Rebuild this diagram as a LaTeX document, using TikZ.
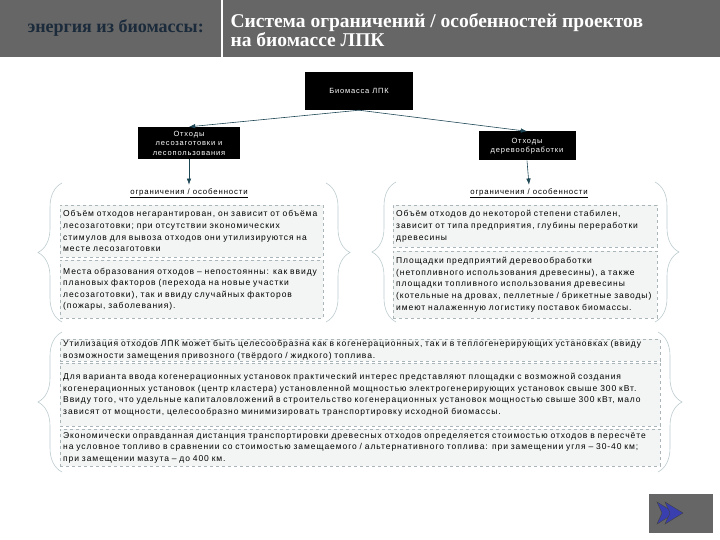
\documentclass[tikz,border=0pt]{standalone}
\usepackage{fontspec}
\setmainfont{Liberation Sans}
\newfontfamily\notefont[LetterSpace=11]{Liberation Sans}
\newfontfamily\headfont{Liberation Serif}
\usetikzlibrary{arrows.meta, positioning, decorations.pathreplacing}

\definecolor{headgray}{HTML}{666666}
\definecolor{headnavy}{HTML}{1B2B3B}
\definecolor{arrowteal}{HTML}{1E4756}
\definecolor{bracegray}{HTML}{BCCACE}
\definecolor{notegray}{HTML}{F3F4F4}
\definecolor{dashgray}{HTML}{A9B5B9}
\definecolor{chevblue}{HTML}{3A3FB0}

\begin{document}
\begin{tikzpicture}[
        x=1pt, y=-1pt,
        blackbox/.style={rectangle, fill=black, text=white, align=center, inner sep=1pt, font=\notefont\fontsize{7.5}{9.5}\selectfont},
        notebox/.style={rectangle, draw=dashgray, dashed, fill=notegray, anchor=north west, align=left, inner xsep=3pt, inner ysep=2pt, font=\notefont\fontsize{8.5}{11.6}\selectfont},
        limit/.style={font=\notefont\fontsize{7.8}{10}\selectfont},
        arrowline/.style={-{Latex[length=2.2mm, width=1.6mm]}, semithick, arrowteal},
        curly/.style={decorate, decoration={brace, amplitude=24pt}, bracegray, semithick}
    ]
        \useasboundingbox (0,0) rectangle (720,540);
        % header
        \fill[headgray] (0,0) rectangle (720,57);
        \draw[white, line width=2pt] (222,0) -- (222,57);
        \node[anchor=west, text=headnavy, font=\headfont\bfseries\fontsize{18}{20}\selectfont] (topic) at (24,28) {энергия из биомассы:};
        \node[anchor=west, text=white, align=left, font=\headfont\bfseries\fontsize{19.5}{18.5}\selectfont] (title) at (227,30) {Система ограничений / особенностей проектов\\на биомассе ЛПК};

        % tree
        \node[blackbox, minimum width=108pt, minimum height=38pt] (biomass) at (359,91) {Биомасса ЛПК};
        \node[blackbox, minimum width=102pt, minimum height=32pt] (logging) at (189,143) {Отходы\\лесозаготовки и\\лесопользования};
        \node[blackbox, minimum width=97pt, minimum height=29pt] (woodproc) at (527,146) {Отходы\\деревообработки};
        \draw[arrowline] (biomass.south) -- (logging.north);
        \draw[arrowline] (biomass.south) -- (woodproc.north);

        \node[limit] (limitL) at (189,193) {\underline{ограничения / особенности}};
        \node[limit] (limitR) at (529,193) {\underline{ограничения / особенности}};
        \draw[arrowline] (logging.south) -- (limitL.north);
        \draw[arrowline] (woodproc.south) -- (limitR.north);

        % left group
        \node[notebox, text width=257pt, minimum height=52pt] (noteL1) at (60,205) {Объём отходов негарантирован, он зависит от объёма\\лесозаготовки; при отсутствии экономических\\стимулов для вывоза отходов они утилизируются на\\месте лесозаготовки};
        \node[notebox, text width=257pt, minimum height=58pt] (noteL2) at (60,260) {Места образования отходов – непостоянны: как ввиду\\плановых факторов (перехода на новые участки\\лесозаготовки), так и ввиду случайных факторов\\(пожары, заболевания).};
        \draw[curly] (62,322) -- (62,183);
        \draw[curly] (326,183) -- (326,322);

        % right group
        \node[notebox, text width=258pt, minimum height=42pt] (noteR1) at (393,205) {Объём отходов до некоторой степени стабилен,\\зависит от типа предприятия, глубины переработки\\древесины};
        \node[notebox, text width=258pt, minimum height=67pt] (noteR2) at (393,251) {Площадки предприятий деревообработки\\(нетопливного использования древесины), а также\\площадки топливного использования древесины\\(котельные на дровах, пеллетные / брикетные заводы)\\имеют налаженную логистику поставок биомассы.};
        \draw[curly] (396,322) -- (396,182);
        \draw[curly] (655,182) -- (655,322);

        % bottom group
        \node[notebox, text width=594pt, minimum height=20pt, inner ysep=1pt] (noteB1) at (60,339) {Утилизация отходов ЛПК может быть целесообразна как в когенерационных, так и в теплогенерирующих установках (ввиду\\возможности замещения привозного (твёрдого / жидкого) топлива.};
        \node[notebox, text width=594pt, minimum height=63pt] (noteB2) at (60,363) {Для варианта ввода когенерационных установок практический интерес представляют площадки с возможной создания\\когенерационных установок (центр кластера) установленной мощностью электрогенерирующих установок свыше 300 кВт.\\Ввиду того, что удельные капиталовложений в строительство когенерационных установок мощностью свыше 300 кВт, мало\\зависят от мощности, целесообразно минимизировать транспортировку исходной биомассы.};
        \node[notebox, text width=594pt, minimum height=37pt] (noteB3) at (60,429) {Экономически оправданная дистанция транспортировки древесных отходов определяется стоимостью отходов в пересчёте\\на условное топливо в сравнении со стоимостью замещаемого / альтернативного топлива: при замещении угля – 30-40 км;\\при замещении мазута – до 400 км.};
        \draw[curly] (62,472) -- (62,332);
        \draw[curly] (658,332) -- (658,472);

        % next button
        \fill[headgray] (649,494) rectangle (713,533);
        \foreach \dx in {0,8}
            \filldraw[fill=chevblue, draw=black!75, thin, shift={(\dx,0)}] (657,502) -- (675,513) -- (657,524) -- (662,513) -- cycle;
    \end{tikzpicture}
\end{document}
